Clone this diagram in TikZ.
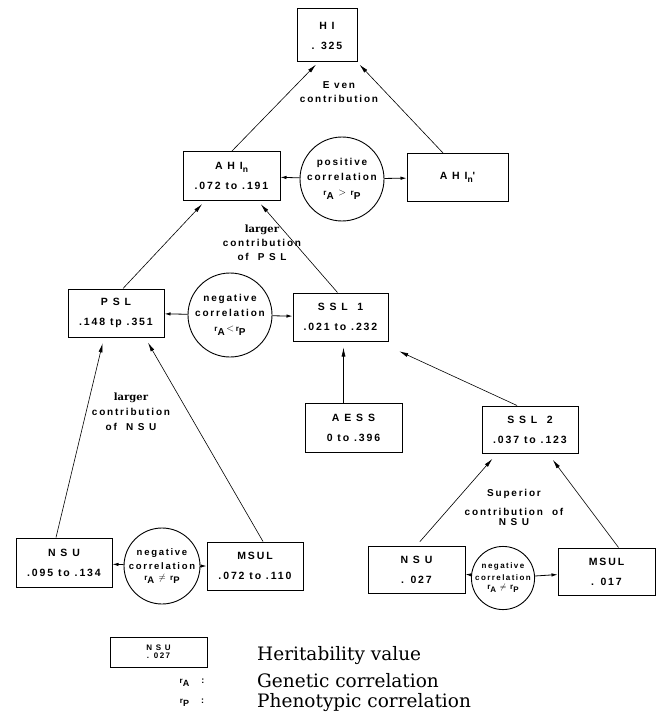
\documentclass[tikz,border=0pt]{standalone}
\usepackage{fontspec}
\newfontfamily\boxfont[LetterSpace=18]{Liberation Sans}
\newfontfamily\legfont{DejaVu Serif}
\usetikzlibrary{arrows.meta}
\newcommand{\corrR}[1]{{\footnotesize r}\raisebox{-0.7ex}{#1}}
\newcommand{\subn}{\raisebox{-0.6ex}{\fontsize{8.5}{9}\selectfont n}}

\begin{document}
\begin{tikzpicture}[
    x=1pt, y=-1pt,
    >={Latex[length=9pt,width=4pt]},
    hbox/.style = {rectangle, draw, line width=1pt, minimum width=96pt, minimum height=48pt, inner sep=2pt, align=center, font=\boxfont\bfseries\fontsize{10.5}{20}\selectfont},
    corr/.style = {circle, draw, line width=0.9pt, inner sep=0pt, align=center, font=\boxfont\bfseries\fontsize{10}{15}\selectfont},
    lbl/.style = {align=center, inner sep=0pt, font=\boxfont\bfseries\fontsize{10}{14}\selectfont},
    legtext/.style = {anchor=base west, inner sep=0pt, font=\legfont\fontsize{18.5}{20}\selectfont},
    arr/.style = {->, line width=0.6pt},
    tie/.style = {-{Latex[length=6pt,width=3.5pt]}, line width=0.8pt}
  ]
  \useasboundingbox (0,0) rectangle (661,722);

  % top level
  \node [hbox, minimum width=60pt, minimum height=53pt] (hi) at (327,35.5) {H I\\. 325};
  \node [hbox, minimum width=97pt] (ahin) at (231.5,176) {A H I\subn\\.072 to .191};
  \node [hbox, minimum width=101pt, minimum height=47pt] (ahinp) at (457.5,177.5) {A H I\subn'};
  \node [corr, minimum size=84pt] (pcorr) at (342,179) {positive\\correlation\\\corrR{A} $>$ \corrR{P}};

  % second level
  \node [hbox] (psl) at (116,313) {P S L\\.148 tp .351};
  \node [corr, minimum size=84pt] (ncorr) at (230,315) {negative\\correlation\\\corrR{A}\,$<$\,\corrR{P}};
  \node [hbox, minimum width=95pt] (ssla) at (340.5,317) {S S L\ \ 1\\.021 to .232};
  \node [hbox, minimum width=97pt, minimum height=49pt] (aess) at (353.5,427.5) {A E S S\\0 to .396};
  \node [hbox, minimum height=47pt] (sslb) at (530,429.5) {S S L\ \ 2\\.037 to .123};

  % bottom level
  \node [hbox, minimum height=49pt] (nsul) at (64,562.5) {N S U\\.095 to .134};
  \node [corr, minimum size=76pt, font=\boxfont\bfseries\fontsize{9.5}{14}\selectfont] (lcorr) at (162,566) {negative\\correlation\\[-3pt]\corrR{A} $\neq$ \corrR{P}};
  \node [hbox] (msul) at (255,566) {MSUL\\.072 to .110};
  \node [hbox, minimum width=97pt, minimum height=47pt] (nsur) at (416.5,569.5) {N S U\\. 027};
  \node [corr, minimum size=62pt, font=\boxfont\bfseries\fontsize{8}{12}\selectfont] (rcorr) at (503,578) {negative\\correlation\\[-3pt]\corrR{A} $\neq$ \corrR{P}};
  \node [hbox, minimum width=97pt, minimum height=47pt] (msur) at (606.5,571.5) {MSUL\\. 017};

  % labels
  \node [lbl] (even) at (339,92) {E ven\\contribution};
  \node [lbl] (largepsl) at (262,243) {{\legfont\bfseries\fontsize{10}{14}\selectfont larger}\\contribution\\of\ \ P S L};
  \node [lbl, font=\boxfont\bfseries\fontsize{10}{15}\selectfont] (largensu) at (131,412) {{\legfont\bfseries\fontsize{10}{15}\selectfont larger}\\contribution\\of\ \ N S U};
  \node [lbl] (superior) at (514,507) {Superior\\[5pt]contribution\ \ of\\[-4pt]N S U};

  % arrows
  \draw [arr, shorten >=3pt] (ahin.north) -- ([xshift=-9pt]hi.south);
  \draw [arr, shorten >=3pt] ([xshift=-14pt]ahinp.north) -- (hi.south east);
  \draw [arr, shorten >=5pt] ([xshift=7pt]psl.north) -- ([xshift=-26pt]ahin.south);
  \draw [arr, shorten >=5pt] ([xshift=-3pt]ssla.north) -- ([xshift=26pt]ahin.south);
  \draw [arr, shorten >=6pt] ([xshift=-8pt]nsul.north) -- ([xshift=-12pt]psl.south);
  \draw [arr, shorten >=6pt] ([xshift=8pt]msul.north) -- ([xshift=29pt]psl.south);
  \draw [arr, shorten >=6pt] ([xshift=-10pt]aess.north) -- ([xshift=3pt]ssla.south);
  \draw [arr, shorten >=2pt] ([xshift=-13pt]sslb.north) -- ([xshift=9pt,yshift=-9pt]ssla.south east);
  \draw [arr, shorten <=5pt, shorten >=7pt] (nsur.north) -- ([xshift=-33pt]sslb.south);
  \draw [arr, shorten >=8pt] ([xshift=12pt]msur.north) -- ([xshift=18pt]sslb.south);

  % correlation ties
  \draw [tie] (pcorr) -- (ahin);
  \draw [tie] (pcorr) -- (ahinp);
  \draw [tie] (ncorr) -- (psl);
  \draw [tie] (ncorr) -- (ssla);
  \draw [tie] (lcorr) -- (nsul);
  \draw [tie] (lcorr) -- (msul);
  \draw [tie] (rcorr) -- (nsur);
  \draw [tie] (rcorr) -- (msur);

  % key
  \node [hbox, minimum width=97pt, minimum height=30pt, font=\boxfont\bfseries\fontsize{8}{8}\selectfont] (key) at (158.5,652) {N S U\\. 027};
  \node [legtext] (keyh) at (257,660) {Heritability value};
  \node [lbl, font=\boxfont\bfseries\fontsize{9}{10}\selectfont] (keyra) at (192,683) {\corrR{A}\hspace{12pt}:};
  \node [legtext] (keyg) at (257,687) {Genetic correlation};
  \node [lbl, font=\boxfont\bfseries\fontsize{9}{10}\selectfont] (keyrp) at (192,703) {\corrR{P}\hspace{12pt}:};
  \node [legtext] (keyp) at (257,707) {Phenotypic correlation};
\end{tikzpicture}
\end{document}
